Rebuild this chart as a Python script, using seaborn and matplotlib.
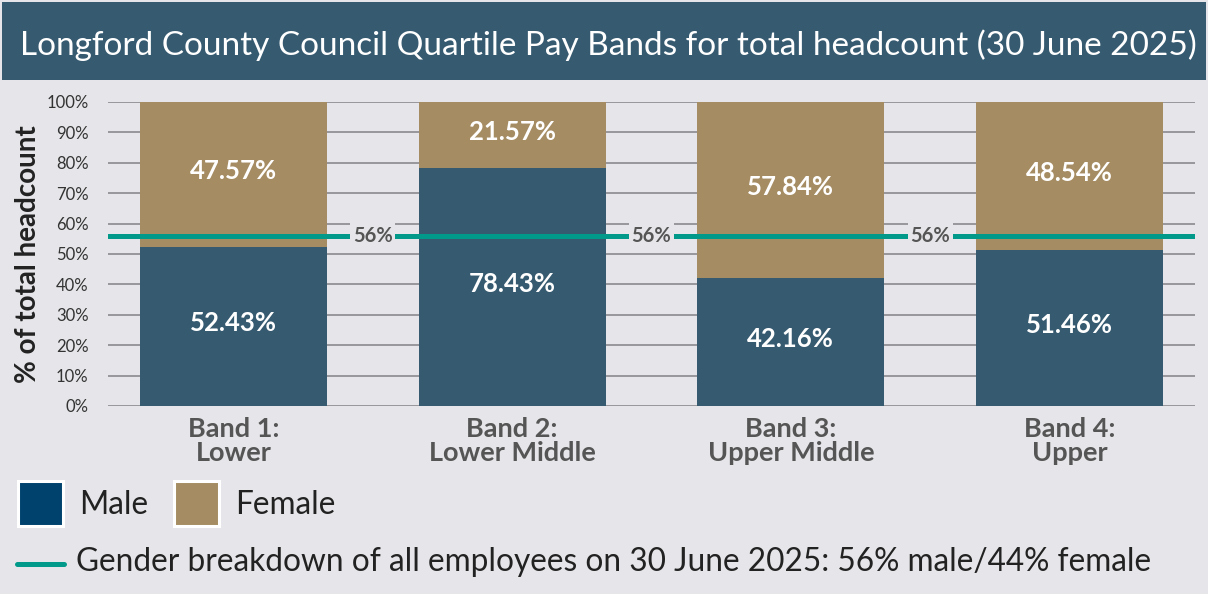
import matplotlib
matplotlib.use("Agg")
import matplotlib.pyplot as plt
import seaborn as sns
import pandas as pd
from matplotlib.patches import Rectangle
from matplotlib.lines import Line2D

# data
bands = ["Band 1:\nLower", "Band 2:\nLower Middle", "Band 3:\nUpper Middle", "Band 4:\nUpper"]
male = [52.43, 78.43, 42.16, 51.46]
female = [47.57, 21.57, 57.84, 48.54]
overall_male = 56

bg = "#E6E6EA"
navy = "#365A70"
gold = "#A58C62"
teal = "#00998A"
grey_txt = "#555555"

sns.set_theme(style="white")
plt.rcParams["font.family"] = ["Lato", "DejaVu Sans"]

W, H = 1208, 594
fig = plt.figure(figsize=(W / 100, H / 100), dpi=100, facecolor=bg)

# title banner
fig.patches.append(Rectangle((2 / W, 1 - 80 / H), 1204 / W, 78 / H, transform=fig.transFigure,
                             facecolor=navy, edgecolor="none", zorder=0))
fig.text(608 / W, 1 - 45 / H, "Longford County Council Quartile Pay Bands for total headcount (30 June 2025)",
         ha="center", va="center", color="white", fontsize=24)

ax = fig.add_axes([108 / W, 1 - 406 / H, 1087 / W, 304 / H])
ax.set_facecolor(bg)

df = pd.DataFrame({"band": bands, "male": male, "female": female})
df["total"] = df["male"] + df["female"]

sns.barplot(data=df, x="band", y="total", color=gold, width=0.67, saturation=1, linewidth=0, ax=ax, zorder=2)
sns.barplot(data=df, x="band", y="male", color=navy, width=0.67, saturation=1, linewidth=0, ax=ax, zorder=2)

for i, (m, f) in enumerate(zip(male, female)):
    ax.text(i, m / 2 + 1, f"{m:.2f}%", ha="center", va="center", color="white",
            fontsize=18.5, fontweight="bold", zorder=4)
    ax.text(i, m + f / 2 + 1, f"{f:.2f}%", ha="center", va="center", color="white",
            fontsize=18.5, fontweight="bold", zorder=4)

# overall gender line
ax.axhline(overall_male, color=teal, lw=3.6, zorder=3)
for xpos in [0.5, 1.5, 2.5]:
    ax.text(xpos, overall_male, f"{overall_male}%", ha="center", va="center", color=grey_txt,
            fontsize=14.5, fontweight="bold", zorder=4,
            bbox=dict(facecolor=bg, edgecolor="none", pad=2))

ax.set_ylim(0, 100)
ax.set_xlim(-0.45, 3.45)
ax.set_yticks(range(0, 101, 10))
ax.set_yticklabels([f"{v}%" for v in range(0, 101, 10)], fontsize=12, color="#333333")
ax.yaxis.grid(True, color="#8A8A8E", lw=1.2, zorder=1)
ax.set_axisbelow(True)
ax.tick_params(axis="y", length=0, pad=14)
ax.tick_params(axis="x", length=0, pad=8)
for label in ax.get_xticklabels():
    label.set_fontsize(19.5)
    label.set_fontweight("bold")
    label.set_color(grey_txt)
    label.set_linespacing(1.0)
ax.set_xlabel("")
ax.set_ylabel("% of total headcount", fontsize=20, fontweight="bold", color="#222222", labelpad=4)
for s in ax.spines.values():
    s.set_visible(False)

# legend
fig.patches.append(Rectangle((18 / W, 1 - 526 / H), 45 / W, 45 / H, transform=fig.transFigure,
                             facecolor="#00426E", edgecolor="white", lw=2.2))
fig.text(79 / W, 1 - 505 / H, "Male", fontsize=22.8, color="#222222", va="center")
fig.patches.append(Rectangle((174 / W, 1 - 526 / H), 45 / W, 45 / H, transform=fig.transFigure,
                             facecolor=gold, edgecolor="white", lw=2.2))
fig.text(235 / W, 1 - 505 / H, "Female", fontsize=22.8, color="#222222", va="center")
fig.lines.append(Line2D([17 / W, 64 / W], [1 - 564 / H, 1 - 564 / H], transform=fig.transFigure,
                        color=teal, lw=3.6))
fig.text(76 / W, 1 - 562 / H, "Gender breakdown of all employees on 30 June 2025: 56% male/44% female",
         fontsize=22.8, color="#222222", va="center")

fig.savefig("out.png", dpi=100, facecolor=bg)
